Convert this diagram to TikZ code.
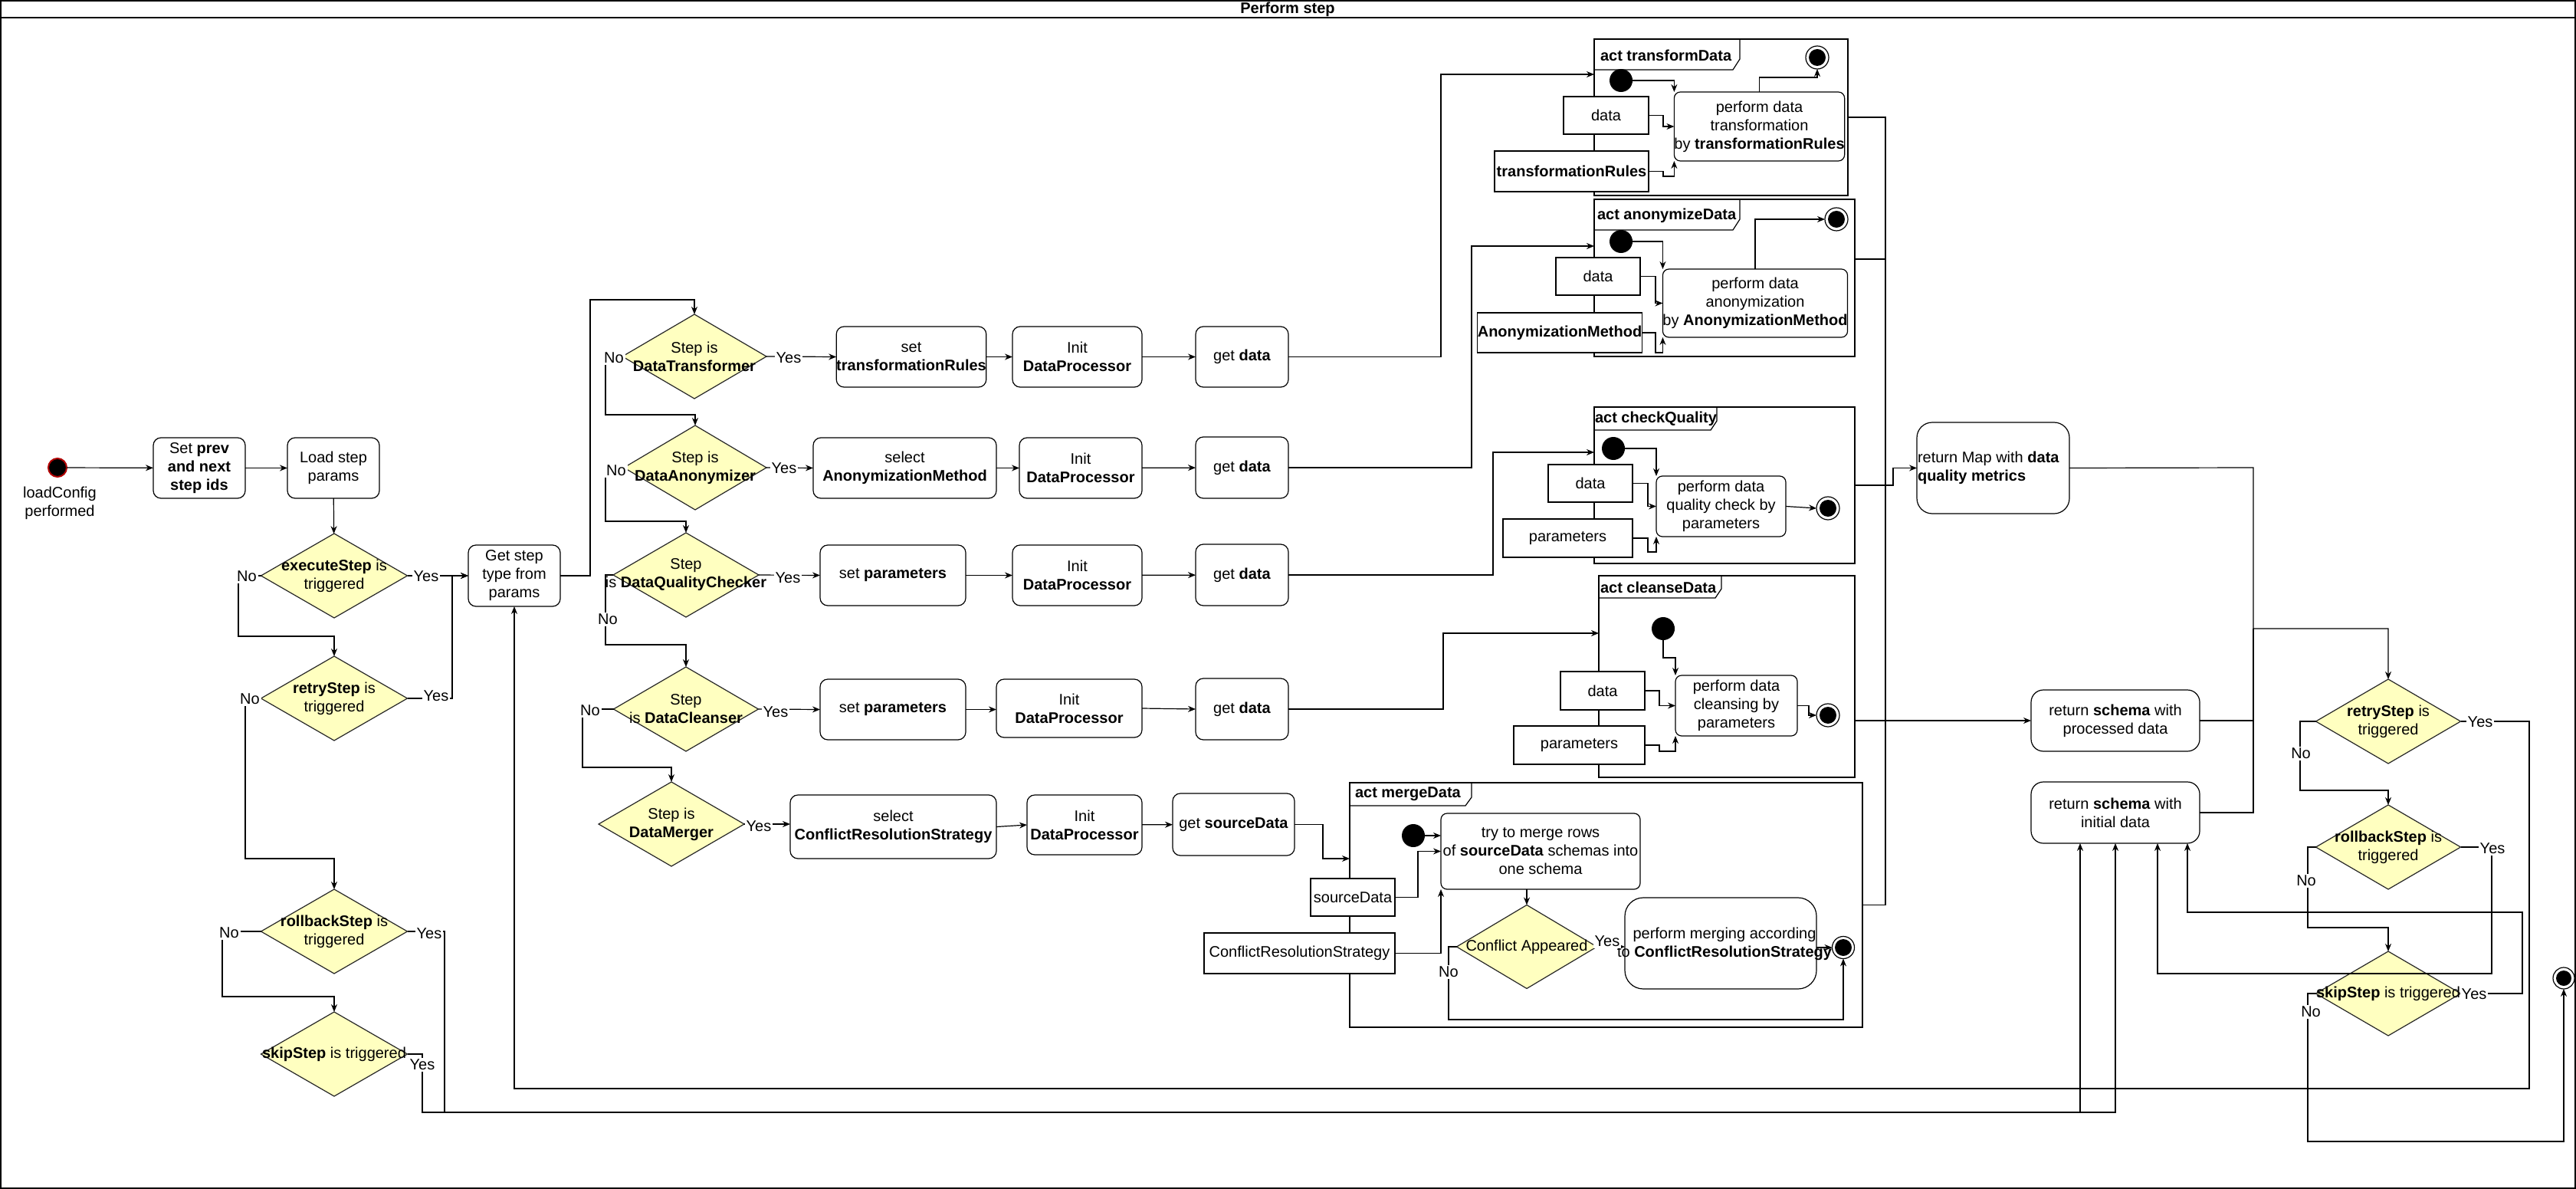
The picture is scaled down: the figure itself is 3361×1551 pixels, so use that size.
\documentclass[tikz,border=0pt]{standalone}
\usepackage{fontspec}
\setmainfont{Liberation Sans}
\usetikzlibrary{arrows.meta,shapes.geometric,fit,calc}
\definecolor{decfill}{HTML}{FFFFC0}
\definecolor{startred}{HTML}{B20000}
\begin{document}
\begin{tikzpicture}[x=0.5pt,y=-0.5pt,
  font=\fontsize{10}{12}\selectfont,
  line width=0.6pt,
  every node/.style={inner sep=0pt,outer sep=0pt},
  % box given by its corners (in picture units)
  bx/.style n args={4}{at={({(#1+#3)/2},{(#2+#4)/2})},
    minimum width={(#3-#1)*0.5pt},minimum height={(#4-#2)*0.5pt}},
  arr/.style={-{Stealth[length=5pt,width=4pt]}},
  act/.style={draw,rounded corners=5pt,align=center,fill=white},
  pin/.style={draw,fill=white,align=center},
  frame/.style={draw},
  ftitle/.style={anchor=west,font=\fontsize{10}{12}\selectfont\bfseries},
  dec/.style={diamond,draw=black!85,fill=decfill,minimum width=95pt,minimum height=55pt},
  dtext/.style={align=center},
  lbl/.style={fill=white,inner sep=1pt},
  initnode/.style={circle,fill=black,minimum size=15pt},
  finalnode/.style={circle,draw,fill=white,minimum size=15pt,
    path picture={\fill[black] (path picture bounding box.center) circle (5.5pt);}}
]
\useasboundingbox (0,0) rectangle (3361,1551);

% outer frame with its title bar
\node[draw,line width=0.8pt,fit={(1,1) (3360,1550)}] (outer) {};
\draw[line width=0.8pt] (outer.west |- 0,23) -- (outer.east |- 0,23);
\node[font=\fontsize{10}{12}\selectfont\bfseries] (title) at (1680,12) {Perform step};

% ---------------- left column: entry and step control ----------------
\node[circle,fill=black,draw=startred,line width=1pt,minimum size=12pt] (start) at (75,610) {};
\node[align=center] (startlbl) at (78,656) {loadConfig\\performed};
\node[act,bx={200}{571}{320}{650}] (setprev) {Set \textbf{prev}\\\textbf{and next}\\\textbf{step ids}};
\node[act,bx={375}{571}{495}{650}] (loadp) {Load step\\params};
\node[act,bx={611}{711}{731}{791}] (getstep) {Get step\\type from\\params};

\node[dec,minimum width=95.5pt] (dexec) at (436,751) {};
\node[dtext] (dexec-t) at (dexec) {\textbf{executeStep} is\\triggered};
\node[dec,minimum width=95.5pt] (dretry) at (436,911) {};
\node[dtext] (dretry-t) at (dretry) {\textbf{retryStep} is\\triggered};
\node[dec,minimum width=95.5pt] (drollback) at (436,1215) {};
\node[dtext] (drollback-t) at (drollback) {\textbf{rollbackStep} is\\triggered};
\node[dec,minimum width=95.5pt] (dskip) at (436,1375) {};
\node[dtext] (dskip-t) at (dskip) {\textbf{skipStep} is triggered};

% ---------------- step type dispatch ----------------
\node[dec,minimum width=94pt] (dtrans) at (906,465) {};
\node[dtext] (dtrans-t) at (dtrans) {Step is\\\textbf{DataTransformer}};
\node[dec,minimum width=93pt] (danon) at (907,610) {};
\node[dtext] (danon-t) at (danon) {Step is\\\textbf{DataAnonymizer}};
\node[dec,minimum width=95pt] (dqc) at (895,750) {};
\node[dtext] (dqc-t) at (dqc) {Step\\is \textbf{DataQualityChecker}};
\node[dec,minimum width=94.5pt] (dcl) at (895,925) {};
\node[dtext] (dcl-t) at (dcl) {Step\\is \textbf{DataCleanser}};
\node[dec,minimum width=95pt] (dmerge) at (876,1075) {};
\node[dtext] (dmerge-t) at (dmerge) {Step is\\\textbf{DataMerger}};

\node[act,bx={1094}{426}{1284}{505}] (settr) {set\\\textbf{transformationRules}};
\node[act,bx={1321}{426}{1490}{505}] (init1) {Init\\\textbf{DataProcessor}};
\node[act,bx={1560}{426}{1681}{505}] (get1) {get \textbf{data}};
\node[act,bx={1061}{571}{1300}{650}] (selam) {select\\\textbf{AnonymizationMethod}};
\node[act,bx={1330}{571}{1490}{650}] (init2) {Init\\\textbf{DataProcessor}};
\node[act,bx={1560}{570}{1681}{650}] (get2) {get \textbf{data}};
\node[act,bx={1070}{711}{1260}{790}] (setp3) {set \textbf{parameters}};
\node[act,bx={1321}{711}{1490}{790}] (init3) {Init\\\textbf{DataProcessor}};
\node[act,bx={1560}{710}{1681}{790}] (get3) {get \textbf{data}};
\node[act,bx={1070}{886}{1260}{965}] (setp4) {set \textbf{parameters}};
\node[act,bx={1300}{886}{1490}{962}] (init4) {Init\\\textbf{DataProcessor}};
\node[act,bx={1560}{885}{1681}{965}] (get4) {get \textbf{data}};
\node[act,bx={1031}{1037}{1300}{1120}] (selcrs) {select\\\textbf{ConflictResolutionStrategy}};
\node[act,bx={1340}{1037}{1490}{1115}] (init5) {Init\\\textbf{DataProcessor}};
\node[act,bx={1530}{1035}{1689}{1116}] (getsrc) {get \textbf{sourceData}};

% ---------------- act transformData ----------------
\node[frame,fit={(2080,51) (2411,255)}] (ftrans) {};
\draw (ftrans.north west) -- (2270,51) -- (2270,77) -- (2261,91) -- (ftrans.west |- 0,91);
\node[ftitle] (ftrans-t) at (2088,72) {act transformData};
\node[initnode] (ti) at (2115,105) {};
\node[finalnode] (tf) at (2371,75) {};
\node[act,rounded corners=4pt,bx={2191}{120}{2400}{210}] (ta) {perform data\\transformation\\by \textbf{transformationRules}};
\node[pin,bx={2040}{126}{2151}{175}] (tdata) {data};
\node[pin,bx={1950}{197}{2151}{250}] (trules) {\textbf{transformationRules}};
\draw[arr] (ti.east) -| (ta.north west);
\draw[arr] (tdata.east) -- (2170,150.5) |- (ta.west);
\draw[arr] (trules.east) -- (2170,223.5) -- (2170,230) -| (ta.south west);
\draw[arr] (ta.north) -- (2295.5,101) -| (tf.south);

% ---------------- act anonymizeData ----------------
\node[frame,fit={(2080,260) (2420,465)}] (fanon) {};
\draw (fanon.north west) -- (2270,260) -- (2270,286) -- (2261,300) -- (fanon.west |- 0,300);
\node[ftitle] (fanon-t) at (2084,281) {act anonymizeData};
\node[initnode] (ai) at (2115,315) {};
\node[finalnode] (af) at (2396,286) {};
\node[act,rounded corners=4pt,bx={2170}{351}{2410}{440}] (aa) {perform data\\anonymization\\by \textbf{AnonymizationMethod}};
\node[pin,bx={2030}{336}{2140}{385}] (adata) {data};
\node[pin,bx={1930}{408}{2140}{460}] (ameth) {\textbf{AnonymizationMethod}};
\draw[arr] (ai.east) -| (aa.north west);
\draw[arr] (adata.east) -- (2160,360.5) |- (aa.west);
\draw[arr] (ameth.east) -- (2160,434) -- (2160,460) -| (aa.south west);
\draw[arr] (aa.north) -- (2290,286) -- (af.west);

% ---------------- act checkQuality ----------------
\node[frame,fit={(2080,531) (2420,735)}] (fqc) {};
\draw (fqc.north west) -- (2240,531) -- (2240,549) -- (2232,561) -- (fqc.west |- 0,561);
\node[ftitle] (fqc-t) at (2081,546) {act checkQuality};
\node[initnode] (qi) at (2105,585) {};
\node[finalnode] (qf) at (2385,663) {};
\node[act,rounded corners=4pt,bx={2161}{621}{2330}{700}] (qa) {perform data\\quality check by\\parameters};
\node[pin,bx={2020}{606}{2130}{655}] (qdata) {data};
\node[pin,bx={1961}{677}{2130}{727}] (qpar) {parameters};
\draw[arr] (qi.east) -| (qa.north west);
\draw[arr] (qdata.east) -- (2150,630.5) |- (qa.west);
\draw[arr] (qpar.east) -- (2150,702) -- (2150,720) -| (qa.south west);
\draw[arr] (qa.east) -- (qf.west);

% ---------------- act cleanseData ----------------
\node[frame,fit={(2086,751) (2420,1014)}] (fcl) {};
\draw (fcl.north west) -- (2246,751) -- (2246,768) -- (2238,780) -- (fcl.west |- 0,780);
\node[ftitle] (fcl-t) at (2088,766) {act cleanseData};
\node[initnode] (ci) at (2170,820) {};
\node[finalnode] (cf) at (2385,933) {};
\node[act,rounded corners=4pt,bx={2186}{881}{2345}{960}] (ca) {perform data\\cleansing by\\parameters};
\node[pin,bx={2036}{876}{2146}{926}] (cdata) {data};
\node[pin,bx={1975}{947}{2146}{997}] (cpar) {parameters};
\draw[arr] (ci.south) -- (2170,858) -| (ca.north west);
\draw[arr] (cdata.east) -- (2165,901) |- (ca.west);
\draw[arr] (cpar.east) -- (2165,972) -- (2165,980) -| (ca.south west);
\draw[arr] (ca.east) -- (2360,920.5) |- (cf.west);

% ---------------- act mergeData ----------------
\node[frame,fit={(1761,1021) (2430,1340)}] (fmerge) {};
\draw (fmerge.north west) -- (1920,1021) -- (1920,1040) -- (1912,1051) -- (fmerge.west |- 0,1051);
\node[ftitle] (fmerge-t) at (1768,1036) {act mergeData};
\node[initnode] (mi) at (1844,1090) {};
\node[act,rounded corners=4pt,bx={1880}{1061}{2140}{1160}] (ma) {try to merge rows\\of \textbf{sourceData} schemas into\\one schema};
\node[pin,bx={1710}{1146}{1820}{1195}] (msrc) {sourceData};
\node[pin,bx={1571}{1217}{1820}{1270}] (mcrs) {ConflictResolutionStrategy};
\node[dec,minimum width=91.5pt,minimum height=54.5pt] (mdec) at (1992,1235) {};
\node[dtext] (mdec-t) at (mdec) {Conflict Appeared};
\node[act,rounded corners=12pt,bx={2120}{1171}{2370}{1290}] (mperf) {};
\node[align=center] (mperf-t) at (2250,1231) {perform merging according\\to \textbf{ConflictResolutionStrategy}};
\node[finalnode,minimum size=14.5pt] (mf) at (2405,1236) {};
\draw[arr] (mi.east) -- (ma.west |- mi.east);
\draw[arr] (msrc.east) -- (1850,1170.5) |- (ma.west);
\draw[arr] (mcrs.east) -| (ma.south west);
\draw[arr] (mdec.north |- ma.south) -- (mdec.north);
\draw[arr] (mdec.east) -- (mperf.west |- mdec.east);
\draw[arr] (mperf.east |- mf.west) -- (mf.west);
\draw[arr] (mdec.west) -- (1890,1235) -- (1890,1330) -| (mf.south);

% ---------------- results and follow-up decisions ----------------
\node[act,rounded corners=10pt,bx={2501}{551}{2700}{670}] (retmap) {};
\node[anchor=west,align=left] (retmap-t) at (2502,610) {return Map with \textbf{data}\\\textbf{quality metrics}};
\node[act,rounded corners=8pt,bx={2650}{900}{2870}{980}] (retproc) {return \textbf{schema} with\\processed data};
\node[act,rounded corners=8pt,bx={2650}{1020}{2870}{1100}] (retinit) {return \textbf{schema} with\\initial data};

\node[dec,minimum width=94.5pt] (rretry) at (3116,941) {};
\node[dtext] (rretry-t) at (rretry) {\textbf{retryStep} is\\triggered};
\node[dec,minimum width=94.5pt] (rrollback) at (3116,1105) {};
\node[dtext] (rrollback-t) at (rrollback) {\textbf{rollbackStep} is\\triggered};
\node[dec,minimum width=94.5pt] (rskip) at (3116,1296) {};
\node[dtext] (rskip-t) at (rskip) {\textbf{skipStep} is triggered};
\node[finalnode,minimum size=14pt,path picture={\fill[black] (path picture bounding box.center) circle (5pt);}] (endnode) at (3345,1276) {};

% ---------------- connectors: entry and step control ----------------
\draw[arr] (start) -- (setprev);
\draw[arr] (setprev) -- (loadp);
\draw[arr] (loadp) -- (dexec);
\draw[arr] (dexec.east) -- (getstep.west);
\draw[arr] (dexec.west) -- (311,751) -- (311,830) -| (dretry.north);
\draw[arr] (dretry.east) -- (590,911) |- (getstep.west);
\draw[arr] (dretry.west) -- (320,911) -- (320,1120) -| (drollback.north);
\draw[arr] (drollback.west) -- (290,1215) -- (290,1300) -| (dskip.north);
\draw[arr] (drollback.east) -- (580,1215) -- (580,1451) -| ($(retinit.south)+(-46,0)$);
\draw[arr] (dskip.east) -- (551,1375) -- (551,1451) -| (retinit.south);

% dispatch on step type
\draw[arr] (getstep.east) -- (770,751) -- (770,391) -| (dtrans.north);
\draw[arr] (dtrans.west) -- (790,465) -- (790,541) -| (danon.north);
\draw[arr] (danon.west) -- (790,610) -- (790,680) -| (dqc.north);
\draw[arr] (dqc.west) -- (790,750) -- (790,841) -| (dcl.north);
\draw[arr] (dcl.west) -- (760,925) -- (760,1001) -| (dmerge.north);
\draw[arr] (dtrans.east) -- (settr.west);
\draw[arr] (danon.east) -- (selam.west);
\draw[arr] (dqc.east) -- (setp3.west);
\draw[arr] (dcl.east) -- (setp4.west);
\draw[arr] (dmerge.east) -- (selcrs.west |- dmerge.east);
\draw[arr] (settr) -- (init1);
\draw[arr] (init1) -- (get1);
\draw[arr] (selam) -- (init2);
\draw[arr] (init2) -- (get2);
\draw[arr] (setp3) -- (init3);
\draw[arr] (init3) -- (get3);
\draw[arr] (setp4.east) -- (init4.west |- setp4.east);
\draw[arr] (init4.east) -- (get4.west);
\draw[arr] (selcrs.east) -- (init5.west);
\draw[arr] (init5) -- (getsrc);

% into the activities
\coordinate (ftrans-in) at (2080,97);
\coordinate (fanon-in) at (2080,321);
\coordinate (fqc-in) at (2080,590);
\coordinate (fcl-in) at (2086,826);
\coordinate (fmerge-in) at (1761,1120);
\draw[arr] (get1.east) -- (1880,465.5) |- (ftrans-in);
\draw[arr] (get2.east) -- (1920,610) |- (fanon-in);
\draw[arr] (get3.east) -- (1948,750) |- (fqc-in);
\draw[arr] (get4.east) -- (1883,925) |- (fcl-in);
\draw[arr] (getsrc.east) -- (1726,1075.5) |- (fmerge-in);

% out of the activities
\coordinate (fanon-out) at (2420,338);
\coordinate (fcl-out) at (2420,940);
\draw (ftrans.east) -- (2460,153) -- (2460,1180.5) -- (fmerge.east);
\draw (fanon-out) -- (2460,338);
\draw[arr] (fcl-out) -- (retproc.west);
\draw[arr] (fqc.east) -- (2470,633) |- (retmap.west);
\draw[arr] (retmap.east) -- (2940,610) -- (2940,820) -| (rretry.north);
\draw (retproc.east) -- (2940,940);
\draw (retinit.east) -- (2940,1060) -- (2940,820);

% follow-up decisions
\draw[arr] (rretry.east) -- (3300,941) -- (3300,1420) -| (getstep.south);
\draw[arr] (rretry.west) -- (3001,941) -- (3001,1031) -| (rrollback.north);
\draw[arr] (rrollback.west) -- (3011,1105) -- (3011,1210) -| (rskip.north);
\draw[arr] (rrollback.east) -- (3251,1105) -- (3251,1270) -| ($(retinit.south)+(55,0)$);
\draw[arr] (rskip.east) -- (3291,1296) -- (3291,1190) -| ($(retinit.south)+(94,0)$);
\draw[arr] (rskip.west) -- (3011,1296) -- (3011,1489) -| (endnode.south);

% ---------------- branch labels ----------------
\node[lbl] (n1) at (322,752) {No};
\node[lbl] (y1) at (556,752) {Yes};
\node[lbl] (n2) at (326,912) {No};
\node[lbl] (y2) at (569,908) {Yes};
\node[lbl] (n3) at (299,1217) {No};
\node[lbl] (y3) at (560,1218) {Yes};
\node[lbl] (y4) at (551,1389) {Yes};
\node[lbl] (n5) at (801,467) {No};
\node[lbl] (y5) at (1029,467) {Yes};
\node[lbl] (n6) at (804,614) {No};
\node[lbl] (y6) at (1023,611) {Yes};
\node[lbl] (n7) at (793,808) {No};
\node[lbl] (y7) at (1028,754) {Yes};
\node[lbl] (n8) at (770,927) {No};
\node[lbl] (y8) at (1012,929) {Yes};
\node[lbl] (y9) at (990,1078) {Yes};
\node[lbl] (n10) at (1890,1268) {No};
\node[lbl] (y10) at (2097,1228) {Yes};
\node[lbl] (n11) at (3002,983) {No};
\node[lbl] (y11) at (3236,942) {Yes};
\node[lbl] (n12) at (3009,1149) {No};
\node[lbl] (y12) at (3252,1107) {Yes};
\node[lbl] (n13) at (3015,1320) {No};
\node[lbl] (y13) at (3228,1297) {Yes};
\end{tikzpicture}
\end{document}
